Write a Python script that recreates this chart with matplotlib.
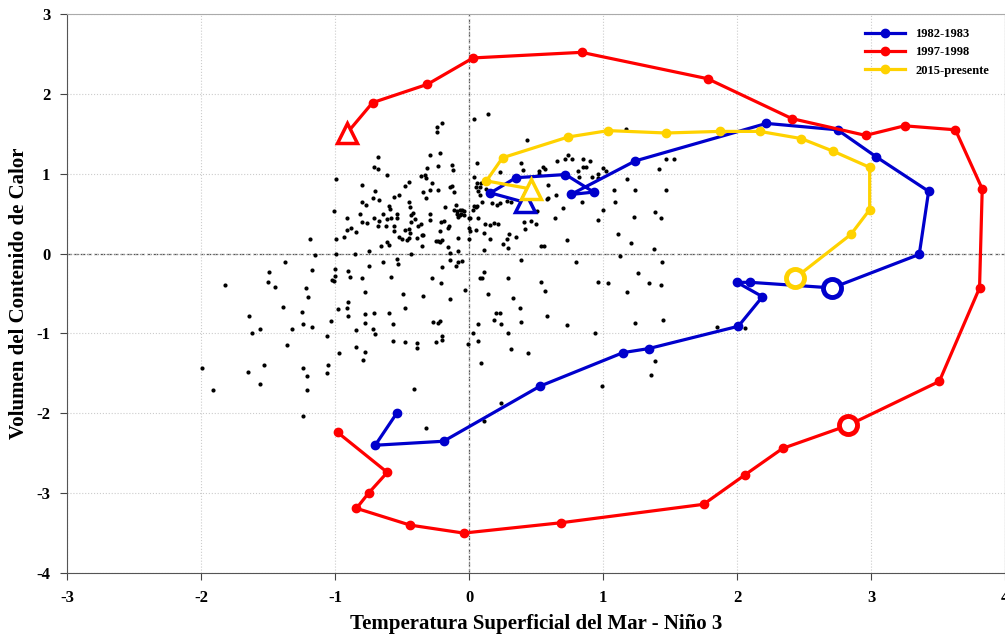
import matplotlib
matplotlib.use('Agg')
import matplotlib.pyplot as plt
import numpy as np

plt.rcParams['font.family'] = ['Liberation Serif', 'DejaVu Serif']
plt.rcParams['font.weight'] = 'bold'
plt.rcParams['axes.unicode_minus'] = False

# trayectorias (TSM Nino 3, volumen contenido de calor)
x_8283 = [0.42, 0.16, 0.35, 0.72, 0.93, 0.76, 1.24, 2.22, 2.75, 3.04, 3.43, 3.36,
          2.71, 2.10, 2.00, 2.19, 2.01, 1.34, 1.15, 0.53, -0.19, -0.70, -0.54]
y_8283 = [0.64, 0.76, 0.95, 0.99, 0.77, 0.74, 1.16, 1.63, 1.55, 1.21, 0.78, -0.01,
          -0.43, -0.36, -0.36, -0.54, -0.91, -1.19, -1.24, -1.66, -2.35, -2.40, -2.00]
mark_8283 = 12

x_9798 = [-0.91, -0.72, -0.31, 0.03, 0.84, 1.78, 2.41, 2.96, 3.25, 3.63, 3.83, 3.81,
          3.51, 2.83, 2.34, 2.06, 1.75, 0.69, -0.04, -0.44, -0.84, -0.75, -0.61, -0.98]
y_9798 = [1.51, 1.89, 2.12, 2.45, 2.52, 2.19, 1.69, 1.48, 1.60, 1.55, 0.81, -0.43,
          -1.60, -2.15, -2.44, -2.77, -3.14, -3.37, -3.50, -3.40, -3.19, -3.00, -2.74, -2.24]
mark_9798 = 13

x_2015 = [0.46, 0.13, 0.25, 0.74, 1.04, 1.47, 1.87, 2.17, 2.48, 2.72, 2.99, 2.99, 2.85, 2.43]
y_2015 = [0.81, 0.91, 1.20, 1.46, 1.54, 1.51, 1.53, 1.53, 1.44, 1.28, 1.08, 0.55, 0.24, -0.31]
mark_2015 = 13

# resto de meses
sx = [-0.99, -0.68, -0.71, -0.68, -0.61, -0.29, -0.31, -0.36, -0.33, -0.32, -0.28, -0.80,
      -0.48, -0.45, -0.70, -0.34, -0.29, -0.72, -0.67, -0.56, -0.52, -0.32, -0.80, -0.77,
      -0.60, -0.59, -0.45, -0.44, -1.01, -0.91, -0.81, -0.80, -0.76, -0.71, -0.67, -0.68,
      -0.64, -0.61, -0.58, -0.54, -0.54, -0.62, -0.56, -0.42, -0.43, -0.40, -0.43, -0.38,
      -0.36, -0.29, -0.29, -0.91, -0.88, -0.84, -0.56, -0.48, -0.44, -0.45, -0.52, -0.50,
      -0.46, -0.45, -0.39, -0.35, -0.34, -0.35, -0.25, -0.93, -0.99, -1.19, -0.66, -0.61,
      -0.60, -0.75, -0.85, -1.15, -0.99, -0.43, -1.37, -0.64, -0.54, -0.53,
      -1.49, -1.17, -1.00, -0.90, -0.89, -1.00, -1.02, -1.01, -0.80, -0.75, -0.58, -0.28,
      -1.82, -1.50, -1.45, -1.22, -1.20, -0.78, -0.49, -0.34, -0.90, -0.91, -0.98, -1.39,
      -1.25, -0.48, -1.64, -0.90, -0.78, -0.71, -0.60, -1.03, -1.24, -1.17, -1.32, -1.56,
      -1.62, -0.78, -0.57, -0.72, -0.70, -0.84, -0.27, -1.06, -1.36, -0.57, -0.48, -0.39,
      -0.39, -0.84, -0.97, -0.78, -0.79, -1.53, -1.99, -1.65, -1.24, -1.21, -1.05, -1.06,
      -1.56, -1.91, -1.21, -0.41, -1.24, -0.32,
      0.04, 0.14, -0.20, -0.24, -0.24, -0.22, 0.43, 1.17, -0.23, -0.13, -0.12, 0.06,
      0.23, 0.39, 0.40, 0.52, 0.55, 0.57, 0.52, 0.66, 0.72, 0.74, 0.77, 0.85,
      0.90, 0.85, 0.87, 0.81, 0.82, 0.92, 0.96, 0.96, 1.00, 1.02, 1.18, 1.47,
      1.53, 1.42, 0.04, 0.06, 0.09, 0.05, 0.08, 0.08, 0.07, -0.14, -0.13, -0.23,
      -0.11, 0.13, 0.59, 0.65, 1.08, 1.24, 1.47, 0.58, 0.59, 1.09, 0.84, 0.10,
      0.21, 0.23, 0.17, 0.28, 0.31, 0.04, 0.06, 0.03, 0.05, -0.18, -0.10, -0.11,
      -0.09, -0.07, -0.05, -0.04, -0.06, -0.09, -0.08, -0.07, -0.04, 0.00, 0.01, 0.07,
      0.12, 0.16, 0.19, 0.22, -0.21, -0.19, -0.15, -0.16, -0.22, -0.23, -0.20, -0.22,
      0.00, 0.01, 0.05, 0.00, 0.11, 0.16, 0.11, -0.08, -0.16, -0.14, -0.08, -0.05,
      -0.08, -0.14, 0.28, 0.30, 0.35, 0.25, 0.29, 0.41, 0.46, 0.42, 0.50, 0.51,
      0.64, 0.70, 0.73, 0.96, 1.00, 1.11, 1.23, 1.39, 1.43, 1.21, 1.38, 0.54,
      0.56, 0.39, 0.80, 1.13, 1.44,
      -0.20, -0.10, 0.11, 0.08, 0.10, -0.21, -0.03, -0.14, 0.29, 0.14, 0.33, 0.54,
      0.57, 0.38, 0.58, 0.20, 0.23, 0.19, 0.24, 0.39, -0.22, -0.23, 0.07, 0.73,
      0.03, 0.29, -0.20, -0.20, -0.25, 0.07, -0.01, 0.31, 0.44, 0.09, 0.94, 0.96,
      1.04, 1.18, 1.26, 1.34, 1.43, 1.24, 1.45, 1.39, 1.36, 0.99, 0.24, 0.11,
      1.85, 2.06]
sy = [0.93, 1.21, 1.08, 1.06, 0.99, 1.24, 1.07, 0.97, 0.98, 0.95, 0.89, 0.86,
      0.85, 0.90, 0.78, 0.77, 0.79, 0.69, 0.67, 0.71, 0.73, 0.70, 0.64, 0.61,
      0.60, 0.56, 0.65, 0.58, 0.53, 0.45, 0.49, 0.40, 0.38, 0.45, 0.41, 0.35,
      0.50, 0.43, 0.44, 0.44, 0.49, 0.35, 0.35, 0.51, 0.48, 0.43, 0.40, 0.34,
      0.37, 0.50, 0.42, 0.30, 0.32, 0.27, 0.28, 0.29, 0.26, 0.31, 0.21, 0.18,
      0.17, 0.19, 0.20, 0.23, 0.23, 0.10, 0.16, 0.21, 0.18, 0.18, 0.10, 0.15,
      0.11, 0.03, 0.00, -0.02, -0.01, -0.01, -0.10, -0.10, -0.07, -0.13,
      -0.23, -0.20, -0.19, -0.22, -0.29, -0.28, -0.33, -0.34, -0.30, -0.16, -0.29, -0.31,
      -0.39, -0.36, -0.42, -0.43, -0.54, -0.48, -0.50, -0.53, -0.61, -0.68, -0.69, -0.67,
      -0.73, -0.68, -0.78, -0.78, -0.76, -0.74, -0.75, -0.85, -0.88, -0.92, -0.94, -0.95,
      -0.99, -0.87, -0.88, -0.95, -1.01, -0.96, -0.86, -1.03, -1.14, -1.09, -1.11, -1.12,
      -1.18, -1.17, -1.24, -1.23, -1.33, -1.39, -1.43, -1.48, -1.43, -1.53, -1.40, -1.50,
      -1.63, -1.71, -1.71, -1.70, -2.03, -2.19,
      1.69, 1.75, 1.63, 1.59, 1.52, 1.26, 1.42, 1.56, 1.10, 1.11, 1.05, 1.13,
      1.02, 1.14, 1.05, 1.03, 1.08, 1.06, 1.00, 1.16, 1.19, 1.23, 1.18, 1.18,
      1.16, 1.08, 1.08, 1.03, 0.96, 0.96, 1.00, 0.95, 1.07, 1.03, 0.94, 1.19,
      1.19, 1.06, 0.96, 0.89, 0.88, 0.83, 0.83, 0.73, 0.78, 0.84, 0.85, 0.80,
      0.77, 0.81, 0.86, 0.73, 0.79, 0.80, 0.79, 0.68, 0.70, 0.64, 0.65, 0.64,
      0.61, 0.63, 0.63, 0.66, 0.65, 0.60, 0.59, 0.55, 0.58, 0.58, 0.61, 0.55,
      0.53, 0.55, 0.55, 0.53, 0.50, 0.50, 0.46, 0.48, 0.48, 0.44, 0.45, 0.44,
      0.37, 0.36, 0.38, 0.37, 0.40, 0.41, 0.35, 0.32, 0.28, 0.16, 0.17, 0.14,
      0.32, 0.28, 0.29, 0.18, 0.26, 0.18, 0.05, 0.19, 0.08, 0.01, 0.03, -0.09,
      -0.10, -0.08, 0.18, 0.24, 0.21, 0.12, 0.07, 0.39, 0.41, 0.31, 0.37, 0.53,
      0.45, 0.57, 0.17, 0.42, 0.55, 0.24, 0.46, 0.52, 0.45, 0.13, 0.06, 0.10,
      0.09, -0.08, -0.11, -0.03, -0.11,
      -0.17, -0.16, -0.23, -0.31, -0.30, -0.37, -0.46, -0.57, -0.30, -0.51, -0.55, -0.35,
      -0.47, -0.68, -0.78, -0.75, -0.75, -0.83, -0.88, -0.86, -0.84, -0.87, -0.88, -0.90,
      -1.00, -0.99, -1.03, -1.08, -1.11, -1.09, -1.13, -1.19, -1.25, -1.37, -1.00, -0.35,
      -0.37, -0.48, -0.24, -0.37, -0.39, -0.87, -0.83, -1.35, -1.52, -1.66, -1.87, -2.10,
      -0.92, -0.93]

fig = plt.figure(figsize=(10.05, 6.34), dpi=100)
ax = fig.add_axes([0.0667, 0.0962, 0.9333, 0.8817])

ax.scatter(sx, sy, s=9, color='black', zorder=2, linewidths=0)

series = [(x_8283, y_8283, mark_8283, '#0000CC', '1982-1983'),
          (x_9798, y_9798, mark_9798, '#FF0000', '1997-1998'),
          (x_2015, y_2015, mark_2015, '#FFD200', '2015-presente')]
for xs, ys, k, col, lab in series:
    ax.plot(xs, ys, '-o', color=col, lw=2.3, ms=6, label=lab, zorder=3)
    ax.plot(xs[0], ys[0], '^', ms=15, mfc='white', mec=col, mew=2.5, zorder=4)
    ax.plot(xs[k], ys[k], 'o', ms=13, mfc='white', mec=col, mew=3.5, zorder=4)

ax.axhline(0, color='#555555', ls='--', lw=0.9, zorder=1)
ax.axvline(0, color='#555555', ls='--', lw=0.9, zorder=1)
ax.grid(True, ls=':', color='#cccccc', lw=0.8, zorder=0)

ax.set_xlim(-3, 4)
ax.set_ylim(-4, 3)
ax.set_xticks(np.arange(-3, 5))
ax.set_yticks(np.arange(-4, 4))
ax.tick_params(direction='out', length=5, labelsize=12, pad=7, color='#444444')
for sp in ax.spines.values():
    sp.set_color('#555555')
ax.spines['top'].set_color('#aaaaaa')

ax.set_xlabel('Temperatura Superficial del Mar - Niño 3', fontsize=15, fontweight='bold', labelpad=6)
ax.set_ylabel('Volumen del Contenido de Calor', fontsize=15, fontweight='bold', labelpad=5)

leg = ax.legend(loc='upper right', bbox_to_anchor=(0.995, 0.995), frameon=False,
                fontsize=9, handlelength=3.2, labelspacing=0.5)

fig.savefig('out.png', dpi=100)
